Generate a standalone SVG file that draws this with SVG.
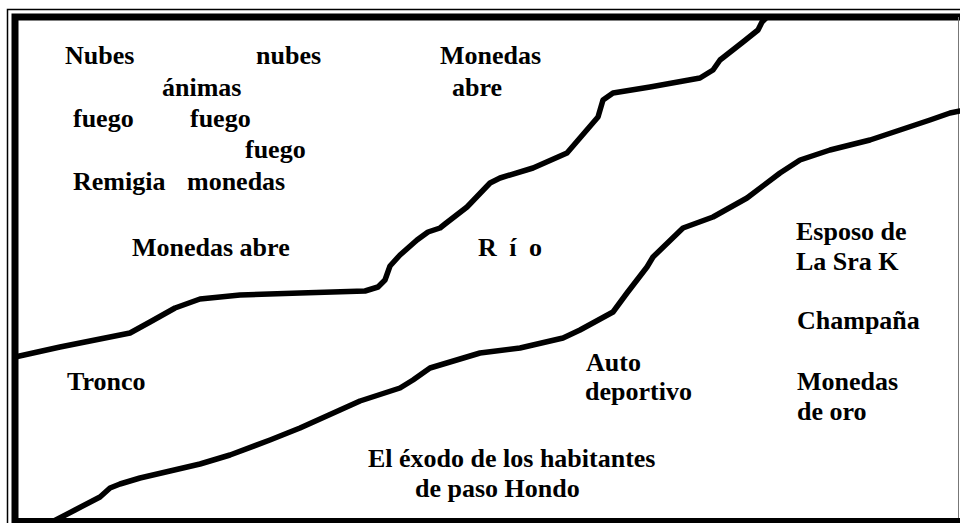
<svg xmlns="http://www.w3.org/2000/svg" width="960" height="523" viewBox="0 0 960 523">
<style>
.t{font-family:"Liberation Serif","Times New Roman",serif;font-weight:bold;font-size:26px;fill:#000}
.river{fill:none;stroke:#000;stroke-width:5.5;stroke-linejoin:round;stroke-linecap:round}
</style>
<rect width="960" height="523" fill="#fff"/>
<g id="frame" fill="none" stroke="#000">
<path d="M7.5,523 V9.5 H960" stroke-width="1.5"/>
<path d="M15,523 V17 H960" stroke-width="7"/>
<path d="M15,520.5 H960" stroke-width="5"/>
<path d="M958.5,17 V518" stroke-width="1" stroke="#777"/>
</g>
<g id="rivers">
<path class="river" d="M15,357 L60,347 L130,333 L150,322 L175,308 L200,299 L240,295 L300,293 L365,291 L378,287 L385,280 L390,266 L400,255 L417,240 L428,232 L440,228 L445,224 L467,207 L490,183 L500,178 L533,168 L567,153 L598,117 L603,100 L613,93 L650,87 L700,78 L713,70 L720,60 L743,42 L758,30 L762,22 L767,17"/>
<path class="river" d="M50,523 L75,510 L100,497 L110,488 L120,484 L140,478 L170,471 L200,464 L230,455 L270,440 L300,428 L340,410 L360,401 L400,388 L413,380 L430,368 L480,353 L520,348 L563,338 L580,330 L613,312 L627,293 L647,267 L653,257 L683,228 L713,217 L747,198 L780,173 L800,160 L830,150 L870,140 L900,130 L930,120 L950,113 L960,111"/>
</g>
<g id="labels">
<text class="t" x="65" y="64">Nubes</text>
<text class="t" x="256" y="64">nubes</text>
<text class="t" x="440" y="64">Monedas</text>
<text class="t" x="162" y="96">ánimas</text>
<text class="t" x="452" y="96">abre</text>
<text class="t" x="73" y="127">fuego</text>
<text class="t" x="190" y="127">fuego</text>
<text class="t" x="245" y="158">fuego</text>
<text class="t" x="73" y="190">Remigia</text>
<text class="t" x="187" y="190">monedas</text>
<text class="t" x="132" y="256">Monedas abre</text>
<text class="t" x="478" y="256" letter-spacing="3">R í o</text>
<text class="t" x="796" y="240">Esposo de</text>
<text class="t" x="796" y="270">La Sra K</text>
<text class="t" x="797" y="329">Champaña</text>
<text class="t" x="586" y="371">Auto</text>
<text class="t" x="585" y="400">deportivo</text>
<text class="t" x="797" y="390">Monedas</text>
<text class="t" x="797" y="420">de oro</text>
<text class="t" x="67" y="390">Tronco</text>
<text class="t" x="368" y="467">El éxodo de los habitantes</text>
<text class="t" x="415" y="497">de paso Hondo</text>
</g>
</svg>
